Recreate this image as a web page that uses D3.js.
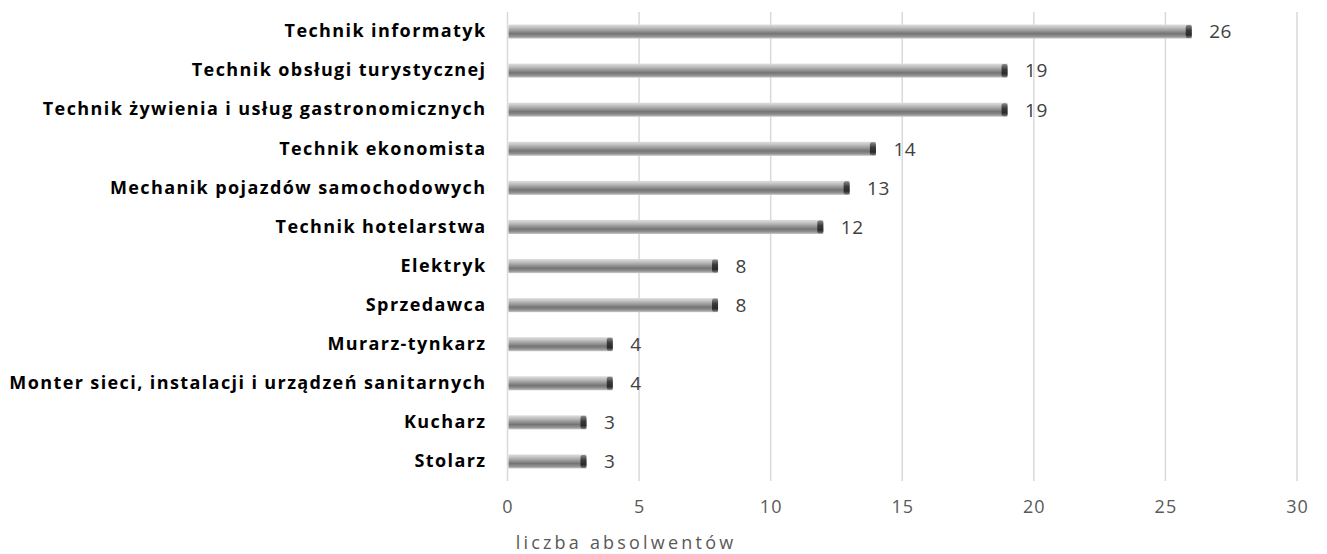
<!DOCTYPE html>
<html>
<head>
<meta charset="utf-8">
<script src="https://cdn.jsdelivr.net/npm/d3@7"></script>
<style>
  body { margin: 0; background: #fff; }
  svg { display: block; }
</style>
</head>
<body>
<script>
// Chart values, top to bottom
const categories = [
    "Technik informatyk",
    "Technik obsługi turystycznej",
    "Technik żywienia i usług gastronomicznych",
    "Technik ekonomista",
    "Mechanik pojazdów samochodowych",
    "Technik hotelarstwa",
    "Elektryk",
    "Sprzedawca",
    "Murarz-tynkarz",
    "Monter sieci, instalacji i urządzeń sanitarnych",
    "Kucharz",
    "Stolarz"
];
const values = [26, 19, 19, 14, 13, 12, 8, 8, 4, 4, 3, 3];
const xTicks = [0, 5, 10, 15, 20, 25, 30];
const axisTitle = "liczba absolwentów";

const width = 1327;
const height = 554;
const margin = { top: 12, right: 30, bottom: 73, left: 507.5 };

const svg = d3.select("body").append("svg")
    .attr("width", width)
    .attr("height", height);

const x = d3.scaleLinear()
    .domain([0, 30])
    .range([margin.left, width - margin.right]);

const y = d3.scaleBand()
    .domain(categories)
    .range([margin.top, height - margin.bottom])
    .paddingInner(0.64)
    .paddingOuter(0.32);

// Gradients for the cylinder-like bars
const defs = svg.append("defs");
const body = defs.append("linearGradient")
    .attr("id", "barBody")
    .attr("x1", 0).attr("y1", 0).attr("x2", 0).attr("y2", 1);
[["0%", "#dedede"], ["18%", "#c6c6c6"], ["40%", "#a0a0a0"],
 ["65%", "#747474"], ["85%", "#929292"], ["100%", "#cacaca"]]
    .forEach(([o, c]) => body.append("stop").attr("offset", o).attr("stop-color", c));

const cap = defs.append("linearGradient")
    .attr("id", "barCap")
    .attr("x1", 0).attr("y1", 0).attr("x2", 0).attr("y2", 1);
[["0%", "#8a8a8a"], ["40%", "#3a3a3a"], ["75%", "#2a2a2a"], ["100%", "#7a7a7a"]]
    .forEach(([o, c]) => cap.append("stop").attr("offset", o).attr("stop-color", c));

// Vertical gridlines
svg.append("g")
    .selectAll("line")
    .data(xTicks)
    .join("line")
    .attr("x1", d => x(d))
    .attr("x2", d => x(d))
    .attr("y1", margin.top)
    .attr("y2", height - margin.bottom)
    .attr("stroke", "#d9d9d9")
    .attr("stroke-width", 1.5);

// X axis tick labels
const xAxis = svg.append("g")
    .attr("transform", `translate(0,${height - margin.bottom + 13})`)
    .call(d3.axisBottom(x).tickValues(xTicks).tickSize(0).tickPadding(6));
xAxis.select(".domain").remove();
xAxis.selectAll("text")
    .attr("fill", "#595959")
    .attr("font-family", "'Open Sans', sans-serif")
    .attr("font-size", 18)
    .attr("letter-spacing", 1);

// Category labels
const yAxis = svg.append("g")
    .attr("transform", `translate(${margin.left - 21},0)`)
    .call(d3.axisLeft(y).tickSize(0).tickPadding(0));
yAxis.select(".domain").remove();
yAxis.selectAll("text")
    .attr("fill", "#000")
    .attr("font-family", "'Open Sans', sans-serif")
    .attr("font-weight", "bold")
    .attr("font-size", 18)
    .attr("letter-spacing", 1.4);

// Bars
const bars = svg.append("g")
    .selectAll("g")
    .data(values)
    .join("g")
    .attr("transform", (d, i) => `translate(0,${y(categories[i])})`);

bars.append("rect")
    .attr("x", x(0) + 1)
    .attr("y", 0)
    .attr("width", d => x(d) - x(0) - 1)
    .attr("height", y.bandwidth())
    .attr("fill", "url(#barBody)");

bars.append("rect")
    .attr("x", d => x(d) - 6)
    .attr("y", 0.5)
    .attr("width", 6)
    .attr("height", y.bandwidth() - 1)
    .attr("rx", 2)
    .attr("fill", "url(#barCap)");

// Value labels
bars.append("text")
    .attr("x", d => x(d) + 17.5)
    .attr("y", y.bandwidth() / 2)
    .attr("dy", "0.36em")
    .attr("fill", "#404040")
    .attr("font-family", "'Open Sans', sans-serif")
    .attr("font-size", 19)
    .attr("letter-spacing", 0.5)
    .text(d => d);

// Axis title
svg.append("text")
    .attr("x", 626)
    .attr("y", 549)
    .attr("text-anchor", "middle")
    .attr("fill", "#595959")
    .attr("font-family", "'Open Sans', sans-serif")
    .attr("font-size", 18)
    .attr("letter-spacing", 3.2)
    .text(axisTitle);
</script>
</body>
</html>
